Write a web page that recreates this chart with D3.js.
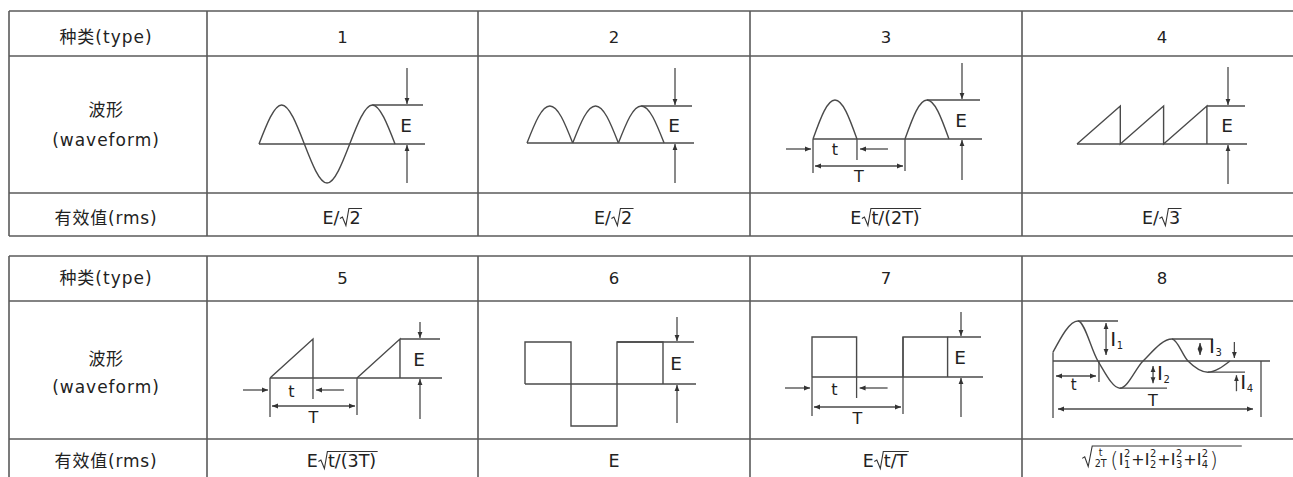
<!DOCTYPE html>
<meta charset="utf-8">
<script src="https://d3js.org/d3.v7.min.js"></script>
<style>
  body { margin: 0; background: #fff; }
  text { font-family: "DejaVu Sans", "Noto Sans CJK SC", sans-serif; fill: #222; }
</style>
<svg width="1293" height="477"></svg>
<script>
// ---- table content ----
var types1 = ["1", "2", "3", "4"];
var types2 = ["5", "6", "7", "8"];
var headType = "种类(type)";
var headWave = ["波形", "(waveform)"];
var headRms = "有效值(rms)";

// waveforms: x in periods, y in units of E (or I1 for type 8)
var sineWave = [[0, 0], [0.25, 1], [0.5, 0], [0.75, -1], [1, 0], [1.25, 1], [1.5, 0]];
var arch = [[0, 0], [0.25, 0.71], [0.5, 1], [0.75, 0.71], [1, 0]];
var saw = [[0, 0], [1, 1], [1, 0], [2, 1], [2, 0], [3, 1], [3, 0]];
var ramp = [[0, 0], [0.494, 1], [0.494, 0]];
var square = [[0, 0], [0, 1], [0.5, 1], [0.5, -1], [1, -1], [1, 1], [1.5, 1], [1.5, 0]];
var pulse = [[0, 0], [0, 1], [0.49, 1], [0.49, 0]];
var damped = [[0, 0.22], [0.12, 1], [0.216, 0], [0.322, -0.68], [0.433, 0],
              [0.572, 0.55], [0.649, 0], [0.745, -0.28], [0.851, 0]];
var halfDuty = 0.478;  // t/T of type 3

// rms formulas
function Isq(n) { return {base: "I", sub: n, sup: "2"}; }
var rms = [
  ["E/", {sqrt: ["2"]}],
  ["E/", {sqrt: ["2"]}],
  ["E", {sqrt: ["t/(2T)"]}],
  ["E/", {sqrt: ["3"]}],
  ["E", {sqrt: ["t/(3T)"]}],
  ["E"],
  ["E", {sqrt: ["t/T"]}],
  [{sqrt: [{frac: ["t", "2T"]}, {big: "("}, Isq("1"), "+", Isq("2"), "+", Isq("3"), "+", Isq("4"), {big: ")"}],
    tall: true, extra: 22}]
];

// ---- drawing ----
var svg = d3.select("svg");
var ink = "#4a4a4a";
svg.append("rect").attr("width", 1293).attr("height", 477).attr("fill", "#fff");
svg.append("defs").append("marker")
    .attr("id", "ah").attr("viewBox", "0 0 10 10").attr("refX", 10).attr("refY", 5)
    .attr("markerUnits", "userSpaceOnUse").attr("markerWidth", 6).attr("markerHeight", 6)
    .attr("orient", "auto-start-reverse")
  .append("path").attr("d", "M0,1L10,5L0,9z").attr("fill", "#333");

function ln(g, x1, y1, x2, y2) {
  return g.append("line").attr("x1", x1).attr("y1", y1).attr("x2", x2).attr("y2", y2)
      .attr("stroke", ink).attr("stroke-width", 1.3);
}
function arr(g, x1, y1, x2, y2, both) {
  var l = ln(g, x1, y1, x2, y2).attr("marker-end", "url(#ah)");
  if (both) l.attr("marker-start", "url(#ah)");
  return l;
}
function txt(g, x, y, s, size, anchor) {
  return g.append("text").attr("x", x).attr("y", y).style("font-size", size + "px")
      .attr("text-anchor", anchor || "middle").text(s);
}
function measure(s, size) {
  var t = svg.append("text").style("font-size", size + "px").text(s);
  var w = t.node().getComputedTextLength();
  t.remove();
  return w;
}

// lay out formula pieces from x along baseline y, returns end x
function layout(g, items, x, y, size) {
  items.forEach(function(it) {
    if (typeof it === "string") {
      txt(g, x, y, it, size, "start");
      x += measure(it, size);
    } else if (it.big) {
      var bs = size * 1.3;
      txt(g, x + 0.5, y + 2, it.big, bs, "start").style("font-weight", 300);
      x += measure(it.big, bs) + 1;
    } else if (it.sqrt) {
      var h = it.tall ? 19 : 15.5;
      var xe = layout(g, it.sqrt, x + (it.tall ? 12 : 10), y, size) + (it.extra || 0);
      g.append("path")
          .attr("d", "M" + (x + 0.5) + "," + (y - h * 0.35) + "l2.5,-1.5l3.5," + (h * 0.35 + 3) +
                "L" + (x + (it.tall ? 10.5 : 9.5)) + "," + (y - h) + "H" + (xe + 1.5))
          .attr("fill", "none").attr("stroke", "#333").attr("stroke-width", 1.1);
      x = xe + 2;
    } else if (it.frac) {
      var fs = size * 0.6;
      var w = Math.max(measure(it.frac[0], fs), measure(it.frac[1], fs)) + 2;
      txt(g, x + w / 2, y - 9, it.frac[0], fs);
      txt(g, x + w / 2, y + 2, it.frac[1], fs);
      x += w + 2;
    } else if (it.base) {
      txt(g, x, y, it.base, size, "start");
      x += measure(it.base, size) + 0.5;
      var ss = size * 0.62;
      txt(g, x, y + 3, it.sub, ss, "start");
      txt(g, x, y - size * 0.5, it.sup, ss, "start");
      x += Math.max(measure(it.sub, ss), measure(it.sup, ss)) + 1;
    }
  });
  return x;
}
function formula(cx, y, items, size) {
  var g = svg.append("g");
  var w = layout(g, items, 0, y, size);
  g.attr("transform", "translate(" + (cx - w / 2) + ",0)");
}

// table frames
var colEdges = [9, 207, 478, 750, 1022, 1302];
var tables = [
  {types: types1, rows: [11, 56, 193, 236], hb: 43, wb: [116, 146], rb: 224},
  {types: types2, rows: [256, 301, 439, 481], hb: 284, wb: [365, 393], rb: 467}
];
var grid = svg.append("g");
tables.forEach(function(t, ti) {
  t.rows.forEach(function(y) {
    ln(grid, colEdges[0], y, 1293, y).attr("stroke", "#5a5a5a").attr("stroke-width", 1.6);
  });
  colEdges.forEach(function(x) {
    ln(grid, x, t.rows[0], x, t.rows[3]).attr("stroke", "#5a5a5a").attr("stroke-width", 1.6);
  });
  var lx = (colEdges[0] + colEdges[1]) / 2 - 2;
  txt(svg, lx, t.hb, headType, 17).style("letter-spacing", "1px");
  txt(svg, lx, t.wb[0], headWave[0], 17).style("letter-spacing", "0.6px");
  txt(svg, lx, t.wb[1], headWave[1], 17).style("letter-spacing", "1px");
  txt(svg, lx, t.rb, headRms, 17).style("letter-spacing", "0.8px");
  t.types.forEach(function(s, i) {
    var cx = (colEdges[i + 1] + colEdges[i + 2]) / 2;
    txt(svg, cx, t.hb, s, 16.5);
    if (s === "8") formula(cx, t.rb - 2, rms[ti * 4 + i], 16);
    else formula(cx, t.rb, rms[ti * 4 + i], 17.5);
  });
});

// waveform cells geometry
var cells = {
  "1": {x0: 259, p: 90.7, base: 144, amp: 39, end: 425, topFrom: 1.25, ex: 407, ay: [68, 183]},
  "2": {x0: 527, p: 45.7, base: 143, amp: 37, end: 694, topFrom: 2.5, ex: 675, ay: [68, 183]},
  "3": {x0: 813, p: 92, base: 139, amp: 39, end: 982, topFrom: 1 + halfDuty / 2, ex: 962, ay: [63, 180],
        duty: halfDuty, tt: {ay: 10, Ty: 27, tb: 16, Tb: 43, lv: 34}},
  "4": {x0: 1077, p: 43.3, base: 144, amp: 38, end: 1247, topFrom: 3, ex: 1228, ay: [67, 184]},
  "5": {x0: 270, p: 87, base: 378, amp: 39, end: 442, topFrom: 1.494, ex: 420, ay: [322, 419],
        duty: 0.494, tt: {ay: 12, Ty: 28, tb: 19, Tb: 45, lv: 39}},
  "6": {x0: 525, p: 92, base: 384, amp: 42, end: 696, topFrom: 1, ex: 677, ay: [317, 423]},
  "7": {x0: 812, p: 91, base: 377, amp: 40, end: 983, topFrom: 1.49, ex: 961, ay: [312, 417],
        duty: 0.49, tt: {ay: 11, Ty: 30, tb: 18, Tb: 47, lv: 39}},
  "8": {x0: 1053, p: 208, base: 361, amp: 40, end: 1270}
};

function shift(pts, k, s) {
  return pts.map(function(d) { return [d[0] * (s || 1) + k, d[1]]; });
}
var waves = {
  "1": {segs: [sineWave], curve: d3.curveNatural},
  "2": {segs: [0, 1, 2].map(function(k) { return shift(arch, k); }), curve: d3.curveNatural},
  "3": {segs: [0, 1].map(function(k) { return shift(arch, k, halfDuty); }), curve: d3.curveNatural},
  "4": {segs: [saw], curve: d3.curveLinear},
  "5": {segs: [0, 1].map(function(k) { return shift(ramp, k); }), curve: d3.curveLinear},
  "6": {segs: [square], curve: d3.curveLinear},
  "7": {segs: [0, 1].map(function(k) { return shift(pulse, k); }), curve: d3.curveLinear},
  "8": {segs: [damped], curve: d3.curveMonotoneX}
};

Object.keys(cells).forEach(function(key) {
  var c = cells[key];
  var g = svg.append("g");
  var sx = d3.scaleLinear().domain([0, 1]).range([c.x0, c.x0 + c.p]);
  var sy = d3.scaleLinear().domain([0, 1]).range([c.base, c.base - c.amp]);
  var gen = d3.line().x(function(d) { return sx(d[0]); }).y(function(d) { return sy(d[1]); })
      .curve(waves[key].curve);
  waves[key].segs.forEach(function(s) {
    g.append("path").attr("d", gen(s)).attr("fill", "none").attr("stroke", ink).attr("stroke-width", 1.4);
  });
  // baseline
  ln(g, c.x0, c.base, c.end, c.base);

  if (key !== "8") {
    var top = sy(1);
    ln(g, sx(c.topFrom), top, c.end - 2, top);
    arr(g, c.ex, c.ay[0], c.ex, top - 1);
    arr(g, c.ex, c.ay[1], c.ex, c.base + 1);
    txt(g, c.ex - 1, (top + c.base) / 2 + 7, "E", 18.5);
  }

  if (c.tt) {
    var t = c.tt, xt = sx(c.duty), xT = sx(1), b = c.base;
    ln(g, c.x0, b, c.x0, b + t.lv);
    ln(g, xt, b, xt, b + 21);
    ln(g, xT, key === "7" ? sy(1) : b, xT, b + t.lv - 2);
    arr(g, c.x0 - 27, b + t.ay, c.x0 - 2, b + t.ay);
    arr(g, xt + 31, b + t.ay, xt + 3, b + t.ay);
    txt(g, (c.x0 + xt) / 2, b + t.tb, "t", 16);
    arr(g, c.x0 + 2, b + t.Ty, xT - 2, b + t.Ty, true);
    txt(g, (c.x0 + xT) / 2, b + t.Tb, "T", 16);
  }

  if (key === "8") {
    var b8 = c.base;
    var ext = [1, 3, 5, 7], ends = [0.3125, 0.548, 0.769, 0.923];
    ext.forEach(function(k, i) {
      ln(g, sx(damped[k][0]), sy(damped[k][1]), sx(ends[i]), sy(damped[k][1]));
    });
    ln(g, c.x0, sy(damped[0][1]), c.x0, b8 + 57);
    ln(g, sx(0.221), b8, sx(0.221), b8 + 21);
    ln(g, sx(1), b8, sx(1), b8 + 56);
    arr(g, c.x0 + 3, b8 + 15, sx(0.221) - 3, b8 + 15, true);
    txt(g, sx(0.1), b8 + 29, "t", 15);
    arr(g, c.x0 + 5, b8 + 48, sx(1) - 8, b8 + 48, true);
    txt(g, sx(0.48), b8 + 45, "T", 16);
    // level arrows
    arr(g, sx(0.255), sy(1) + 2, sx(0.255), b8 - 6, true);
    arr(g, sx(0.481), b8 + 5, sx(0.481), sy(-0.68) - 5, true);
    arr(g, sx(0.707), sy(0.55) + 4, sx(0.707), b8 - 6, true);
    arr(g, sx(0.872), sy(0.55) + 3, sx(0.872), b8 - 3);
    arr(g, sx(0.882), sy(-0.28) + 19, sx(0.882), sy(-0.28) + 3);
    var lab = [[0.275, 346, "1"], [0.5, 380, "2"], [0.75, 353, "3"], [0.9, 389, "4"]];
    lab.forEach(function(d) {
      txt(g, sx(d[0]), d[1], "I", 20, "start");
      txt(g, sx(d[0]) + 6.5, d[1] + 3, d[2], 10, "start");
    });
  }
});
</script>
